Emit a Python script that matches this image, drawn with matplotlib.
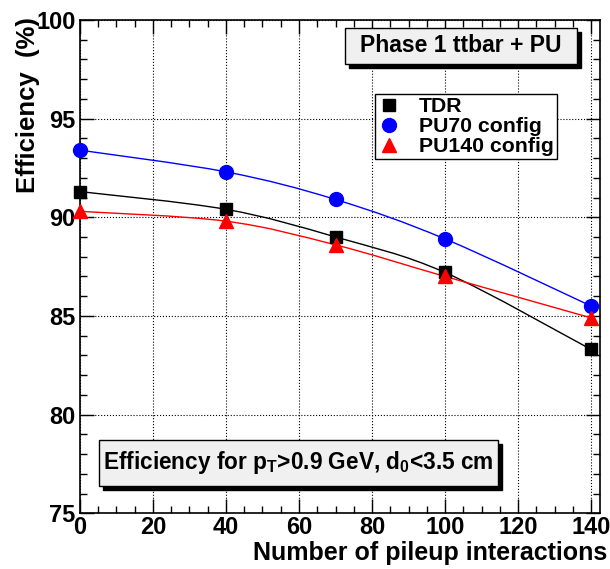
import numpy as np
import matplotlib.pyplot as plt
from matplotlib.path import Path
from matplotlib.patches import PathPatch, Rectangle
from matplotlib.ticker import MultipleLocator

plt.rcParams['font.family'] = ['Liberation Sans', 'DejaVu Sans']
plt.rcParams['font.weight'] = 'bold'
plt.rcParams['mathtext.fontset'] = 'custom'
plt.rcParams['mathtext.rm'] = 'Liberation Sans:bold'
plt.rcParams['mathtext.it'] = 'Liberation Sans:bold'
plt.rcParams['mathtext.bf'] = 'Liberation Sans:bold'

# pileup values and efficiencies (%)
pileup = [0, 40, 70, 100, 140]
eff_tdr = [91.3, 90.4, 89.0, 87.2, 83.3]
eff_pu70 = [93.4, 92.3, 90.9, 88.9, 85.5]
eff_pu140 = [90.3, 89.8, 88.6, 87.0, 84.9]

series = [
    ("TDR", eff_tdr, "black", "s"),
    ("PU70 config", eff_pu70, "blue", "o"),
    ("PU140 config", eff_pu140, "red", "^"),
]


def smooth_path(x, y):
    # Catmull-Rom through the points, drawn as cubic Bezier segments
    x = np.asarray(x, float)
    y = np.asarray(y, float)
    pts = np.column_stack([x, y])
    verts = [pts[0]]
    codes = [Path.MOVETO]
    n = len(pts)
    for i in range(n - 1):
        p0 = pts[i - 1] if i > 0 else pts[i]
        p1 = pts[i]
        p2 = pts[i + 1]
        p3 = pts[i + 2] if i + 2 < n else pts[i + 1]
        c1 = p1 + (p2 - p0) / 6.0
        c2 = p2 - (p3 - p1) / 6.0
        verts += [c1, c2, p2]
        codes += [Path.CURVE4] * 3
    return Path(verts, codes)


fig = plt.figure(figsize=(6.1, 5.69), dpi=100)
ax = fig.add_axes([0.131, 0.098, 0.853, 0.867])

for name, vals, col, mk in series:
    ax.add_patch(PathPatch(smooth_path(pileup, vals), fill=False, edgecolor=col, lw=1.0, zorder=2))
    ax.plot(pileup, vals, linestyle='none', marker=mk, color=col, markersize=10 if mk != 's' else 9,
            label=name, zorder=3, clip_on=False)

ax.set_xlim(0, 142.5)
ax.set_ylim(75, 100)
ax.xaxis.set_major_locator(MultipleLocator(20))
ax.xaxis.set_minor_locator(MultipleLocator(5))
ax.yaxis.set_major_locator(MultipleLocator(5))
ax.yaxis.set_minor_locator(MultipleLocator(1))
ax.tick_params(which='both', direction='in', top=True, right=True, labelsize=17, width=1)
ax.tick_params(which='major', length=10)
ax.tick_params(which='minor', length=5)
ax.tick_params(axis='x', pad=2)
ax.tick_params(axis='y', pad=3)
for lab in ax.get_xticklabels() + ax.get_yticklabels():
    lab.set_fontweight('bold')
ax.grid(True, which='major', linestyle=':', color='black', lw=0.8)
for s in ax.spines.values():
    s.set_linewidth(1.2)

fig.text(607 / 610, 1 - 553 / 569, "Number of pileup interactions", ha='right', va='center',
         fontsize=18, fontweight='bold')
fig.text(28 / 610, 1 - 17 / 569, "Efficiency  (%)", ha='center', va='top', rotation=90,
         fontsize=18.5, fontweight='bold')


def shadow_box(x0, y0, x1, y1, text, fs):
    # box in figure pixel coordinates (origin top-left), with ROOT-style shadow
    W, H = 610.0, 569.0
    sh = 4
    fig.patches.append(Rectangle(((x0 + sh) / W, 1 - (y1 + sh) / H), (x1 - x0) / W, (y1 - y0) / H,
                                 transform=fig.transFigure, facecolor='black', edgecolor='black', zorder=5))
    fig.patches.append(Rectangle((x0 / W, 1 - y1 / H), (x1 - x0) / W, (y1 - y0) / H,
                                 transform=fig.transFigure, facecolor='#f0f0f0', edgecolor='black',
                                 lw=1.0, zorder=6))
    fig.text((x0 + x1) / 2 / W, 1 - (y0 + y1) / 2 / H, text, ha='center', va='center',
             fontsize=fs, fontweight='bold', zorder=7)


shadow_box(345, 28, 577, 64, "Phase 1 ttbar + PU", 16.5)
shadow_box(99, 440, 498, 486, r"Efficiency for p$_{\mathrm{T}}$>0.9 GeV, d$_{0}$<3.5 cm", 16.3)

leg = ax.legend(loc='upper left', bbox_to_anchor=((375 - 80) / 520, 1 - (94 - 20) / 493),
                frameon=True, fancybox=False, edgecolor='black', framealpha=1,
                prop={'size': 15.3, 'weight': 'bold'}, handlelength=1.0, handletextpad=0.9,
                borderpad=0.15, labelspacing=0.05, borderaxespad=0)
leg.get_frame().set_linewidth(1.0)
leg.set_zorder(10)

fig.savefig("out.png", dpi=100)
